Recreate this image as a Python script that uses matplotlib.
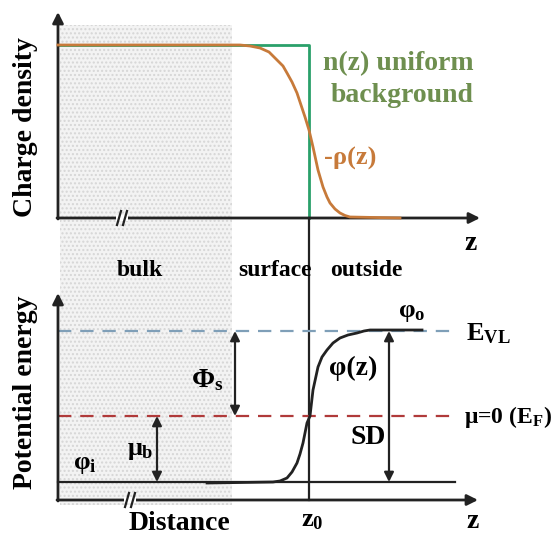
import matplotlib.pyplot as plt
from matplotlib.patches import Rectangle

# schematic in pixel-like coordinates (x right, y down)
rho_x = [58, 240, 250, 260, 269, 277, 283, 287, 292, 297, 301, 305, 309, 313, 318, 323, 327, 330, 335, 340, 345, 350, 400]
rho_y = [45, 45, 46, 48, 52, 60, 66, 73, 82, 93, 105, 117, 130, 147, 170, 187, 197, 203, 209, 213, 215.5, 217, 218]

bg_x = [58, 309, 309]
bg_y = [45, 45, 218]

phi_x = [207, 273, 280, 287, 292, 297, 300, 303, 307, 310, 313, 318, 322, 327, 333, 340, 348, 357, 364, 370, 422]
phi_y = [483, 482, 481, 478, 472, 463, 454, 443, 423, 416, 390, 367, 357, 350, 343, 338, 335, 333, 331, 330, 330]

levels = {"vl": 331, "fermi": 416, "inner": 482}
z0 = 309

c_orange = "#c77a3a"
c_green = "#2aa06a"
c_text_green = "#6e8f4f"
c_blue = "#7f9fb8"
c_red = "#b03a3a"

plt.rcParams["font.family"] = ["Liberation Serif", "DejaVu Serif"]
plt.rcParams["font.weight"] = "bold"
plt.rcParams["mathtext.fontset"] = "custom"
plt.rcParams["mathtext.rm"] = "Liberation Serif:bold"
plt.rcParams["mathtext.it"] = "Liberation Serif:bold"
plt.rcParams["mathtext.bf"] = "Liberation Serif:bold"

fig = plt.figure(figsize=(5.6, 5.36), dpi=100)
ax = fig.add_axes([0, 0, 1, 1])
ax.set_xlim(0, 560)
ax.set_ylim(536, 0)
ax.axis("off")

# dotted bulk region
ax.add_patch(Rectangle((60, 25), 172, 480, facecolor="#f3f3f3", edgecolor="#d6d6d6",
                       hatch="....", lw=0, zorder=0))

arr = dict(arrowstyle="-|>", lw=2, color="#222222", mutation_scale=16, shrinkA=0, shrinkB=0)
dbl = dict(arrowstyle="<|-|>", lw=1.6, color="#222222", mutation_scale=14, shrinkA=0, shrinkB=0)

# top panel axes
ax.annotate("", xy=(58, 12), xytext=(58, 219), arrowprops=arr)
ax.annotate("", xy=(480, 218), xytext=(57, 218), arrowprops=arr)
# bottom panel axes
ax.annotate("", xy=(58, 293), xytext=(58, 501), arrowprops=arr)
ax.annotate("", xy=(478, 500), xytext=(57, 500), arrowprops=arr)


def axis_break(x, y):
    ax.add_patch(Rectangle((x - 6, y - 3), 12, 6, facecolor="white", edgecolor="none", zorder=4))
    for dx in (-3, 3):
        ax.plot([x + dx - 2, x + dx + 2], [y + 7, y - 7], color="#222222", lw=1.6, zorder=5)


axis_break(122, 218)
axis_break(130, 500)

# charge density curves
ax.plot(bg_x, bg_y, color=c_green, lw=2, zorder=2)
ax.plot(rho_x, rho_y, color=c_orange, lw=2, zorder=3)

# z0 line through both panels
ax.plot([z0, z0], [218, 500], color="#222222", lw=1.6, zorder=2)

# energy levels
ax.plot([58, 456], [levels["vl"]] * 2, color=c_blue, lw=1.6, ls=(0, (6, 4)), zorder=2)
ax.plot([58, 456], [levels["fermi"]] * 2, color=c_red, lw=1.6, ls=(0, (6, 4)), zorder=2)
ax.plot([58, 455], [levels["inner"]] * 2, color="#222222", lw=1.6, zorder=2)
ax.plot(phi_x, phi_y, color="#222222", lw=2, zorder=3)

# double arrows
ax.annotate("", xy=(235, levels["vl"]), xytext=(235, levels["fermi"]), arrowprops=dbl)
ax.annotate("", xy=(157, levels["fermi"]), xytext=(157, levels["inner"]), arrowprops=dbl)
ax.annotate("", xy=(389, levels["vl"]), xytext=(389, levels["inner"]), arrowprops=dbl)

# labels
ax.text(26, 127, "Charge density", rotation=90, ha="center", va="center", fontsize=20)
ax.text(26, 392, "Potential energy", rotation=90, ha="center", va="center", fontsize=20)
ax.text(398, 64, "n(z) uniform", ha="center", va="center", fontsize=20, color=c_text_green)
ax.text(402, 96, "background", ha="center", va="center", fontsize=20, color=c_text_green)
ax.text(350, 158, "-ρ(z)", ha="center", va="center", fontsize=19, color=c_orange)
ax.text(471, 243, "z", ha="center", va="center", fontsize=20)
ax.text(140, 270, "bulk", ha="center", va="center", fontsize=17)
ax.text(275, 270, "surface", ha="center", va="center", fontsize=17)
ax.text(366, 270, "outside", ha="center", va="center", fontsize=17)
ax.text(207, 380, r"$\Phi_\mathrm{s}$", ha="center", va="center", fontsize=20)
ax.text(140, 450, r"$\mu_\mathrm{b}$", ha="center", va="center", fontsize=19)
ax.text(85, 465, r"$\varphi_\mathrm{i}$", ha="center", va="center", fontsize=19)
ax.text(412, 313, r"$\varphi_\mathrm{o}$", ha="center", va="center", fontsize=19)
ax.text(353, 368, "φ(z)", ha="center", va="center", fontsize=20)
ax.text(368, 437, "SD", ha="center", va="center", fontsize=20)
ax.text(466, 334, r"E$_\mathrm{VL}$", ha="left", va="center", fontsize=19)
ax.text(464, 417, r"μ=0 (E$_\mathrm{F}$)", ha="left", va="center", fontsize=17)
ax.text(179, 523, "Distance", ha="center", va="center", fontsize=20)
ax.text(312, 521, r"z$_\mathrm{0}$", ha="center", va="center", fontsize=19)
ax.text(473, 522, "z", ha="center", va="center", fontsize=20)

fig.savefig("out.png", dpi=100)
